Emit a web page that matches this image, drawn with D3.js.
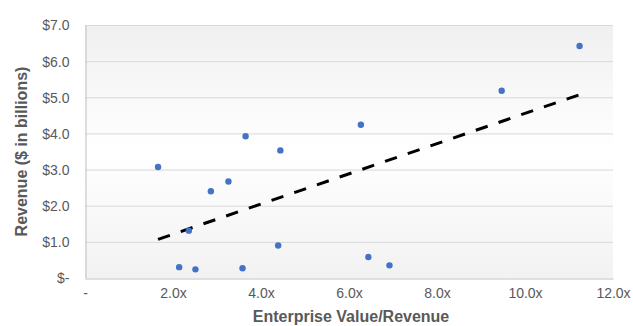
<!DOCTYPE html>
<html>
<head>
<meta charset="utf-8">
<script src="https://cdn.jsdelivr.net/npm/d3@7"></script>
<style>
  html, body { margin: 0; padding: 0; background: #ffffff; }
  svg { display: block; }
  .tick text { font-family: "Liberation Sans Narrow", "Arial Narrow", sans-serif; font-size: 14px; fill: #595959; }
  .title { font-family: "Liberation Sans Narrow", "Arial Narrow", sans-serif; font-weight: bold; font-size: 16px; fill: #595959; }
</style>
</head>
<body>
<svg id="chart" width="633" height="326"></svg>
<script>
// EV/Revenue multiple (x) against revenue in $ billions (y)
const evRevenue = [1.66, 2.14, 2.36, 2.51, 2.86, 3.26, 3.58, 3.65, 4.44, 4.39, 6.27, 6.44, 6.92, 9.47, 11.24];
const revenue   = [3.07, 0.30, 1.31, 0.24, 2.40, 2.67, 0.27, 3.92, 3.53, 0.90, 4.24, 0.58, 0.35, 5.18, 6.42];
const xTicks = [0, 2, 4, 6, 8, 10, 12];
const xTickLabels = ["-", "2.0x", "4.0x", "6.0x", "8.0x", "10.0x", "12.0x"];
const yTicks = [0, 1, 2, 3, 4, 5, 6, 7];
const yTickLabels = ["$-", "$1.0", "$2.0", "$3.0", "$4.0", "$5.0", "$6.0", "$7.0"];

const svg = d3.select("#chart");
const margin = { left: 85, right: 20, top: 25, bottom: 48 };
const W = 633, H = 326;
const x = d3.scaleLinear().domain([0, 12]).range([margin.left, W - margin.right]);
const y = d3.scaleLinear().domain([0, 7]).range([H - margin.bottom, margin.top]);

// plot area background: soft grey fading to white toward the middle
const defs = svg.append("defs");
const grad = defs.append("linearGradient").attr("id", "plotBg")
  .attr("x1", 0).attr("y1", 0).attr("x2", 0).attr("y2", 1);
grad.append("stop").attr("offset", "0%").attr("stop-color", "#f0f0f0");
grad.append("stop").attr("offset", "50%").attr("stop-color", "#ffffff");
grad.append("stop").attr("offset", "100%").attr("stop-color", "#f2f2f2");

svg.append("rect")
  .attr("x", x(0)).attr("y", y(7))
  .attr("width", x(12) - x(0)).attr("height", y(0) - y(7))
  .attr("fill", "url(#plotBg)");

// horizontal gridlines
svg.append("g").selectAll("line").data(yTicks.filter(d => d > 0)).join("line")
  .attr("x1", x(0)).attr("x2", x(12))
  .attr("y1", d => y(d) + 0.5).attr("y2", d => y(d) + 0.5)
  .attr("stroke", "#d9d9d9").attr("stroke-width", 1);

// y axis
const yAxis = svg.append("g").attr("transform", `translate(${x(0) + 0.5},0)`)
  .call(d3.axisLeft(y).tickValues(yTicks).tickFormat((d, i) => yTickLabels[i]).tickSize(0).tickPadding(16));
yAxis.select(".domain").attr("stroke", "#bfbfbf");
yAxis.selectAll(".tick text").attr("dy", "0.35em");

// x axis
const xAxis = svg.append("g").attr("transform", `translate(0,${y(0) + 0.5})`)
  .call(d3.axisBottom(x).tickValues(xTicks).tickFormat((d, i) => xTickLabels[i]).tickSize(0).tickPadding(10));
xAxis.select(".domain").attr("stroke", "#bfbfbf");

// least-squares trendline over the observed range
const n = evRevenue.length;
const mx = d3.mean(evRevenue), my = d3.mean(revenue);
const slope = d3.sum(evRevenue, (v, i) => (v - mx) * (revenue[i] - my)) / d3.sum(evRevenue, v => (v - mx) ** 2);
const intercept = my - slope * mx;
const [x0, x1] = d3.extent(evRevenue);
svg.append("line")
  .attr("x1", x(x0)).attr("y1", y(intercept + slope * x0))
  .attr("x2", x(x1)).attr("y2", y(intercept + slope * x1))
  .attr("stroke", "#000").attr("stroke-width", 3)
  .attr("stroke-dasharray", "12.5,11.5");

// data points
svg.append("g").selectAll("circle").data(evRevenue).join("circle")
  .attr("cx", d => x(d)).attr("cy", (d, i) => y(revenue[i]))
  .attr("r", 3.2).attr("fill", "#4472c4");

// axis titles
svg.append("text").attr("class", "title")
  .attr("x", (x(0) + x(12)) / 2 + 2).attr("y", 322)
  .attr("text-anchor", "middle").text("Enterprise Value/Revenue");
svg.append("text").attr("class", "title")
  .attr("transform", `translate(27,${(y(0) + y(7)) / 2}) rotate(-90)`)
  .attr("text-anchor", "middle").text("Revenue ($ in billions)");
</script>
</body>
</html>
